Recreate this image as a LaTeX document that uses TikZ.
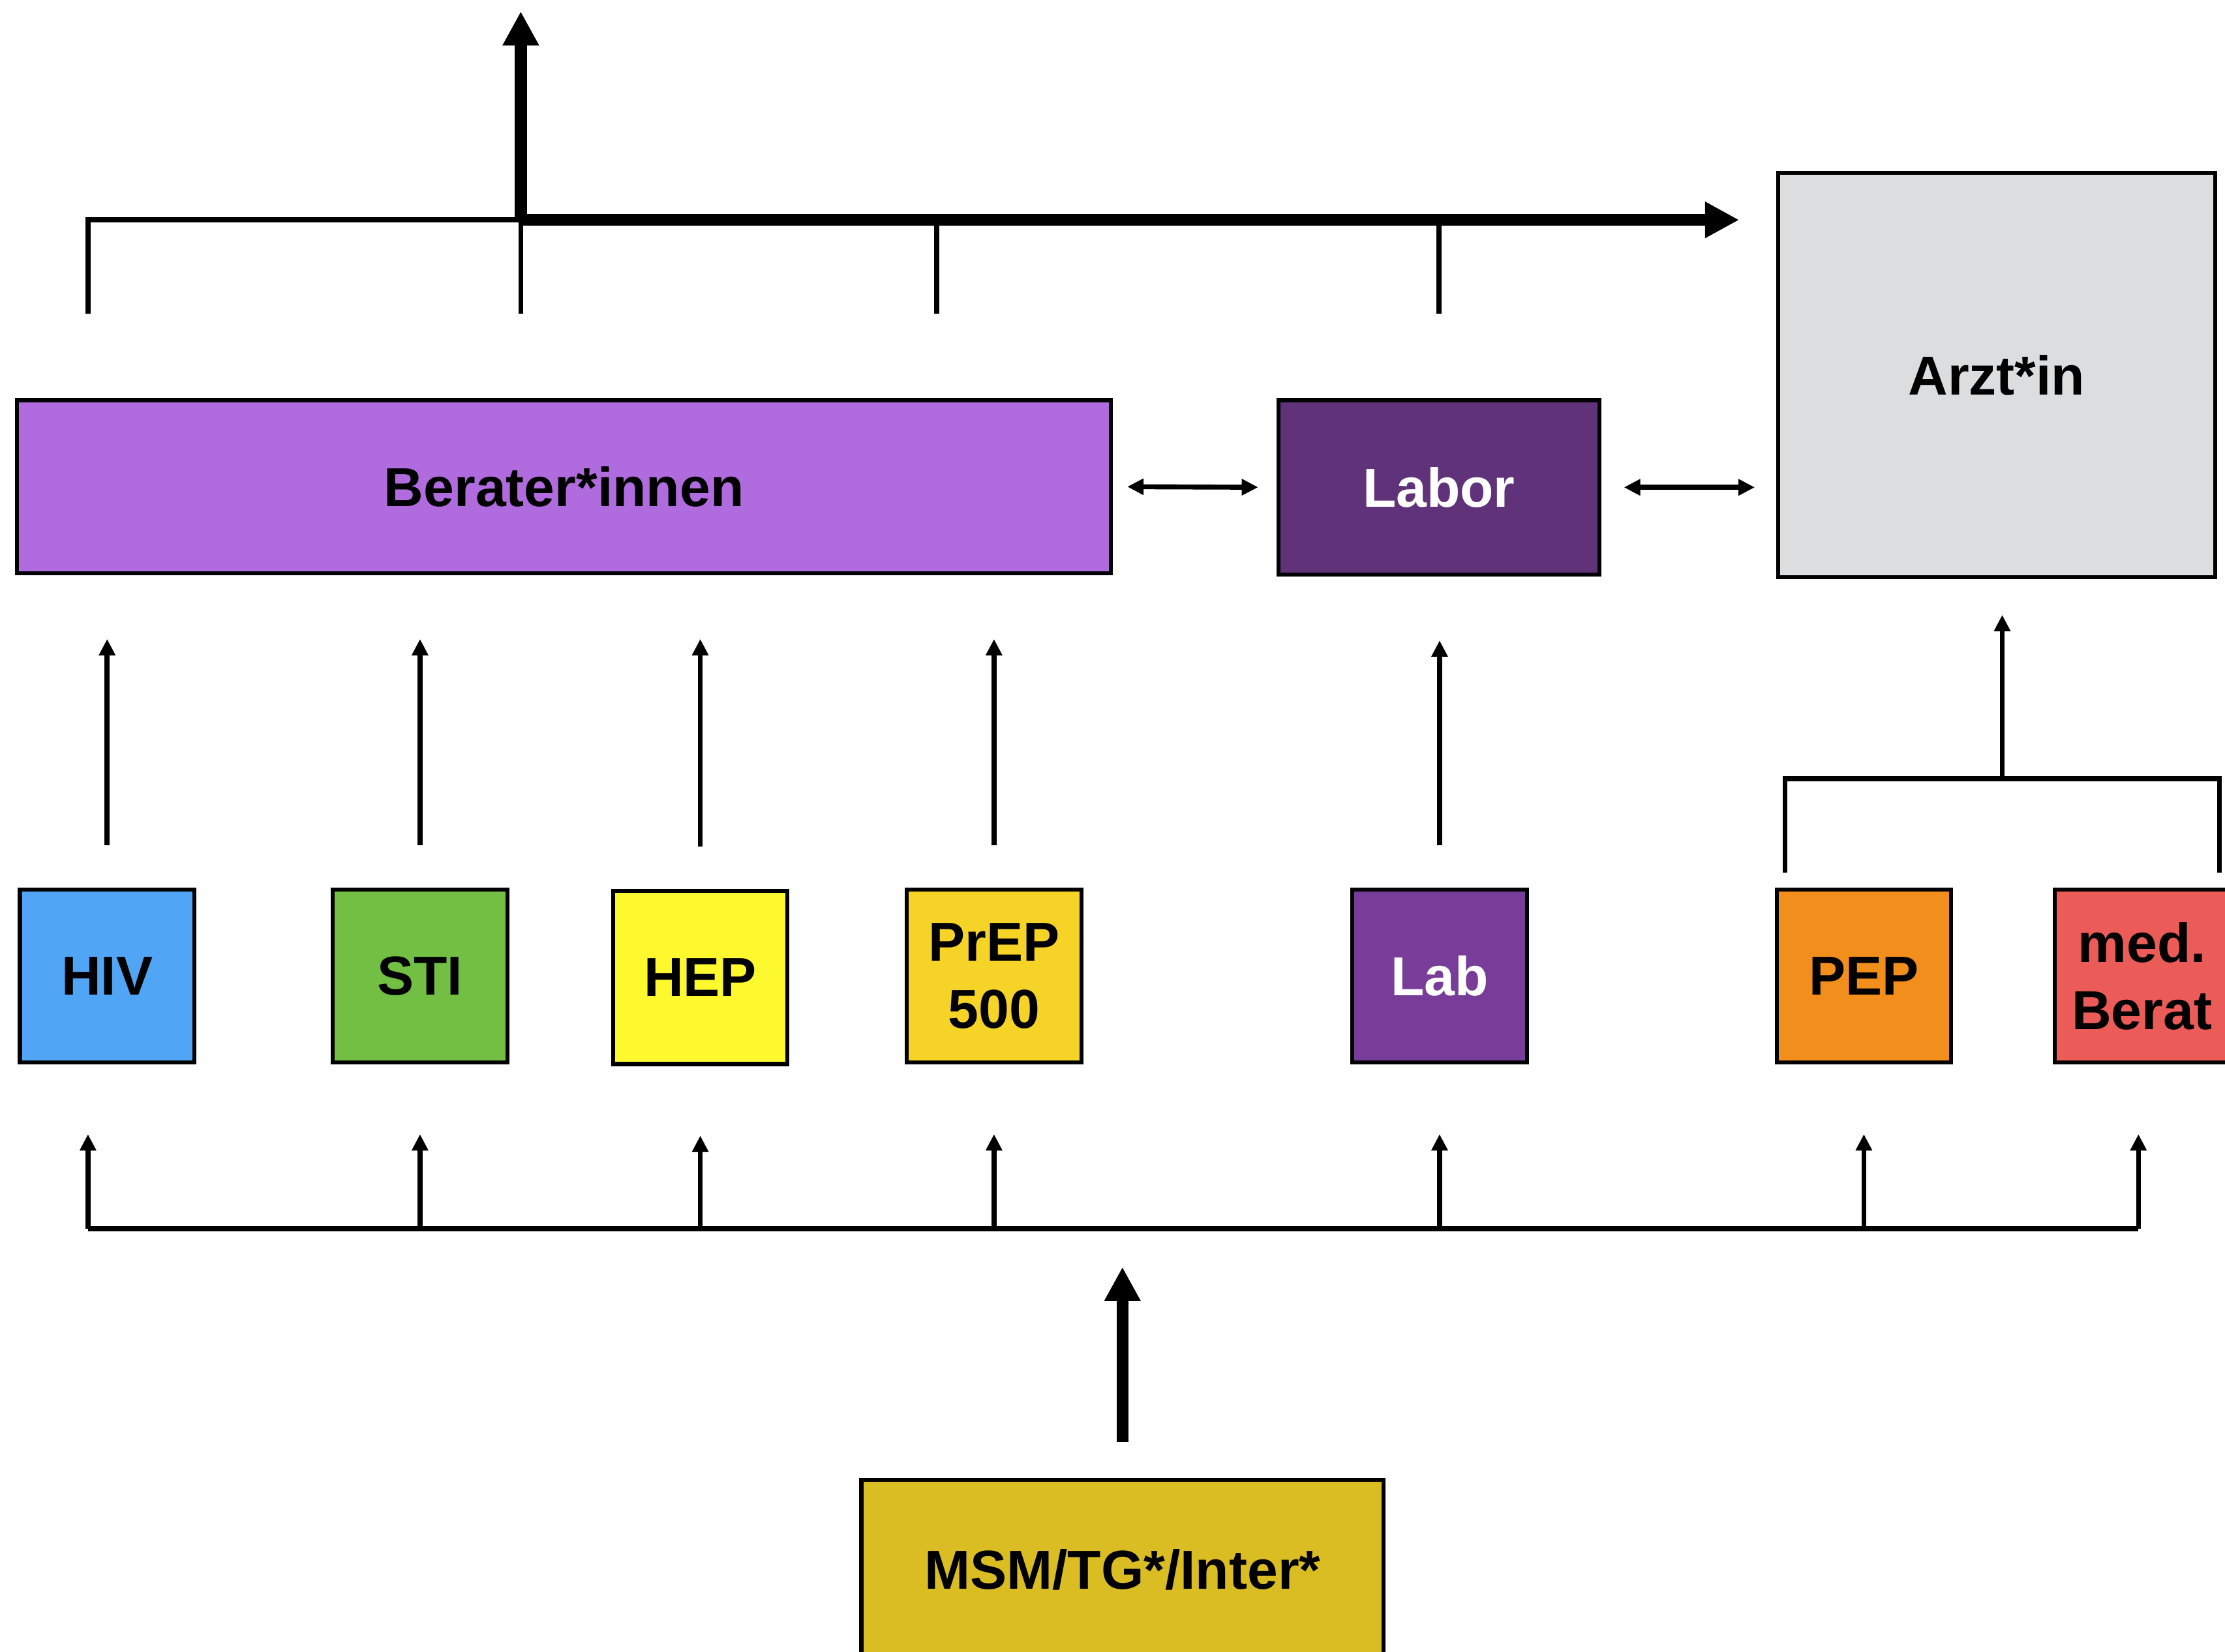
\documentclass[tikz,border=0pt]{standalone}
\usepackage{fontspec}
\setmainfont{Liberation Sans}
\usetikzlibrary{arrows.meta}

\definecolor{beratercol}{HTML}{B06CDF}
\definecolor{laborcol}{HTML}{5F3279}
\definecolor{arztcol}{HTML}{DCDDDF}
\definecolor{hivcol}{HTML}{50A5F5}
\definecolor{sticol}{HTML}{72BF44}
\definecolor{hepcol}{HTML}{FEF92E}
\definecolor{prepcol}{HTML}{F5D327}
\definecolor{labcol}{HTML}{773D98}
\definecolor{pepcol}{HTML}{F28E1C}
\definecolor{medcol}{HTML}{EB5C58}
\definecolor{msmcol}{HTML}{DABD22}

\begin{document}
\begin{tikzpicture}[x=0.2mm, y=-0.2mm,
        wire/.style={line width=2pt},
        thinarrow/.style={line width=2pt, -{Triangle[length=2.3mm, width=2.2mm]}},
        dblarrow/.style={line width=2pt, {Triangle[length=2.3mm, width=2.2mm]}-{Triangle[length=2.3mm, width=2.2mm]}},
        fatarrow/.style={line width=4.8pt, -{Triangle[length=4.8mm, width=4.8mm]}}
    ]
    \useasboundingbox (0,0) rectangle (1568,1164);
    \clip (0,0) rectangle (1568,1164);

    \begin{scope}[
            every node/.style={draw, line width=1.6pt, inner sep=0pt, align=center,
                font=\bfseries\fontsize{22}{27}\selectfont,
                minimum width=24.6mm, minimum height=24.4mm}
        ]

        \node[fill=beratercol, minimum width=154.2mm] (berater) at (397.5,343) {Berater*innen};
        \node[fill=laborcol, text=white, minimum width=45.2mm, minimum height=24.6mm] (labor) at (1014,343.5) {Labor};
        \node[fill=arztcol, minimum width=61.6mm, minimum height=57mm] (arzt) at (1407,264.5) {Arzt*in};

        \node[fill=hivcol] (hiv) at (75.5,688) {HIV};
        \node[fill=sticol] (sti) at (296,688) {STI};
        \node[fill=hepcol] (hep) at (493.5,689) {HEP};
        \node[fill=prepcol] (prep) at (700.5,688) {PrEP\\500};
        \node[fill=labcol, text=white] (lab) at (1014.5,688) {Lab};
        \node[fill=pepcol] (pep) at (1313.5,688) {PEP};
        \node[fill=medcol] (med) at (1509.5,688) {med.\\Berat};

        \node[fill=msmcol, minimum width=73.6mm, minimum height=25.4mm] (msm) at (791,1106.5) {MSM/TG*/Inter*};
    \end{scope}

    \coordinate (hub) at (367,155);
    \coordinate (up) at (367,8);
    \coordinate (topL) at (62,221);
    \coordinate (topC) at (660,221);

    \draw[wire] (topL) |- (hub);
    \draw[wire] (hub) -- (hub |- topL);
    \draw[wire] (topC) -- (topC |- hub);
    \draw[wire] (labor.north |- topL) -- (labor.north |- hub);
    \draw[fatarrow] (hub) -- (up);
    \draw[fatarrow, shorten >=5.2mm] (hub) -- (hub -| arzt.west);

    \path (berater.east) edge[dblarrow, shorten <=2mm, shorten >=2.6mm] (labor.west);
    \path (labor.east) edge[dblarrow, shorten <=3.2mm, shorten >=3mm] (labor.east -| arzt.west);

    \foreach \n in {hiv,sti,hep,prep}
        \draw[thinarrow, shorten <=6mm, shorten >=9mm] (\n.north) -- (\n.north |- berater.south);
    \draw[thinarrow, shorten <=6mm, shorten >=9mm] (lab.north) -- (lab.north |- labor.south);

    \coordinate (brL) at (1258,615);
    \coordinate (brR) at (1564,615);
    \coordinate (brM) at (1411,549);
    \draw[wire] (brL) |- (brM) -| (brR);
    \draw[thinarrow, shorten >=5mm] (brM) -- (brM |- arzt.south);

    \coordinate (busL) at (62,866);
    \coordinate (busR) at (1507,866);
    \draw[wire] (busL) -- (busR);
    \draw[thinarrow, shorten >=9.8mm] (busL) -- (busL |- hiv.south);
    \foreach \n in {sti,hep,prep,lab,pep}
        \draw[thinarrow, shorten >=9.8mm] (\n.south |- busL) -- (\n.south);
    \draw[thinarrow, shorten >=9.8mm] (busR) -- (busR |- med.south);

    \draw[fatarrow, shorten <=5mm, shorten >=5.4mm] (msm.north) -- (msm.north |- busL);
\end{tikzpicture}
\end{document}
